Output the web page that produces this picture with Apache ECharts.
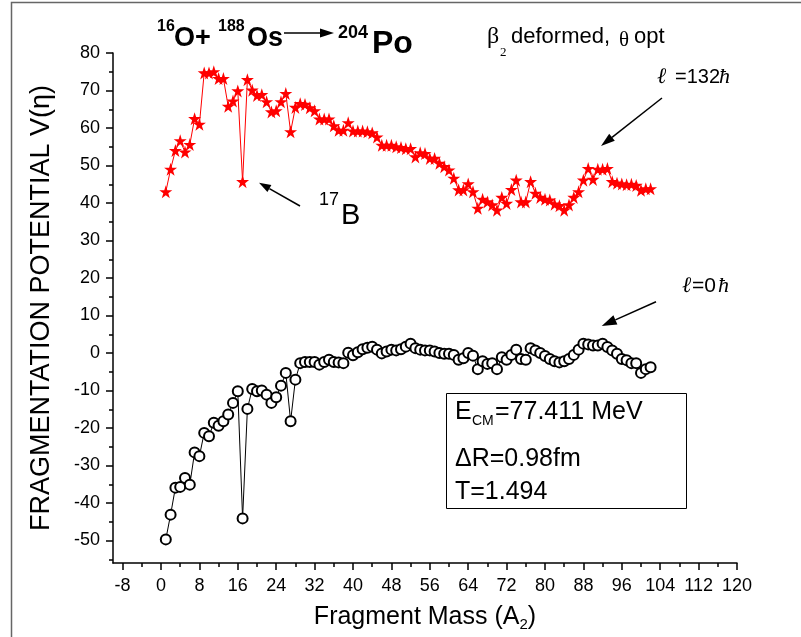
<!DOCTYPE html>
<html>
<head>
<meta charset="utf-8">
<script src="https://cdn.jsdelivr.net/npm/echarts@6/dist/echarts.min.js"></script>
<style>
html,body{margin:0;padding:0;background:#fff;}
#chart{width:801px;height:637px;}
</style>
</head>
<body>
<div id="chart"></div>
<script>
// Fragment mass A2
var masses = [1,2,3,4,5,6,7,8,9,10,11,12,13,14,15,16,17,18,19,20,21,22,23,24,25,26,27,28,29,30,31,32,33,34,35,36,37,38,39,40,41,42,43,44,45,46,47,48,49,50,51,52,53,54,55,56,57,58,59,60,61,62,63,64,65,66,67,68,69,70,71,72,73,74,75,76,77,78,79,80,81,82,83,84,85,86,87,88,89,90,91,92,93,94,95,96,97,98,99,100,101,102];
// l = 132 hbar
var v132 = [43,49,54,56.6,53.6,55.6,62.5,61,74.7,74.7,75,73.2,73.2,65.8,67.2,69.9,45.7,72.9,70.1,68.7,68.9,67,64.3,64.6,67,69.2,59,65.5,66.5,66.3,65.4,64.6,62.4,62.4,62.4,60.6,59.4,59.4,61.4,59.2,59.2,59.2,59,58.7,57.6,55.4,55.4,55.4,55,54.8,54.5,54.5,52.3,53.4,53.2,51.9,51.9,50.6,49.7,48.8,46.6,43.5,43.5,45.1,43,38.6,41,40.3,39.5,38.1,41.5,39.9,43.6,46.1,40.3,40.3,45.7,42.6,41.5,41,40.8,39.7,39.3,38.1,39.5,41.5,43,46.1,49.2,46.3,49,49,49.2,45.7,45.3,45.1,44.9,45,44.7,43.4,43.8,43.8];
// l = 0 hbar
var v0 = [-49.7,-43.1,-35.9,-35.7,-33.3,-35.1,-26.5,-27.5,-21.3,-22.2,-18.6,-19.4,-18.2,-16.4,-13.3,-10.2,-44.1,-14.9,-9.6,-10.2,-10.0,-11.1,-13.3,-11.8,-8.7,-5.3,-18.2,-7.1,-2.7,-2.4,-2.4,-2.4,-3.1,-2.4,-1.8,-2.4,-2.5,-2.7,0.1,-0.6,0.2,1.0,1.4,1.7,0.9,-0.1,0.4,0.9,0.7,1.0,1.7,2.5,1.3,0.9,0.7,0.7,0.4,0,-0.2,-0.2,-0.5,-1.8,-1.4,0.0,-0.7,-4.3,-2.2,-2.9,-2.7,-4.3,-1.1,-1.8,-0.5,0.9,-1.6,-1.8,1.3,0.7,0,-0.8,-1.6,-2.2,-2.5,-2.2,-1.6,-0.5,0.9,2.5,2.3,2.0,2.0,2.5,1.6,0.7,-0.2,-1.6,-1.9,-2.7,-2.7,-5.3,-4.3,-3.8];
// tick values
var xMajorTicks = [-8,0,8,16,24,32,40,48,56,64,72,80,88,96,104,112,120];
var xMinorTicks = [-4,4,12,20,28,36,44,52,60,68,76,84,92,100,108,116];
var yMajorTicks = [-50,-40,-30,-20,-10,0,10,20,30,40,50,60,70,80];
var yMinorTicks = [-55,-45,-35,-25,-15,-5,5,15,25,35,45,55,65,75];

var FONT = '"Liberation Sans", Arial, sans-serif';
var SERIF = '"Liberation Serif", "DejaVu Serif", serif';
var starPath = 'path://M50,0 L61.2,34.5 L97.6,34.5 L68.2,55.9 L79.4,90.5 L50,69.1 L20.6,90.5 L31.8,55.9 L2.4,34.5 L38.8,34.5 Z';

function pairs(xs, ys){ return xs.map(function(x,i){ return [x, ys[i]]; }); }

var chart = echarts.init(document.getElementById('chart'), null, {renderer:'canvas'});
var axisLineStyle = {color:'#000', width:1.5};
var option = {
  animation:false,
  backgroundColor:'#fff',
  grid:{left:113, right:64, top:53, bottom:73.5, containLabel:false},
  xAxis:[{
    type:'value', min:-10, max:120, position:'bottom',
    axisLine:{show:true, onZero:false, lineStyle:axisLineStyle},
    axisTick:{show:true, inside:false, length:7, customValues:xMajorTicks, lineStyle:{color:'#000', width:1.5}},
    axisLabel:{show:true, customValues:xMajorTicks, margin:14, color:'#000', fontSize:18, fontFamily:FONT},
    splitLine:{show:false},
    name:'{a|Fragment Mass (A}{s|2}{a|)}', nameLocation:'middle', nameGap:40,
    nameTextStyle:{rich:{a:{fontSize:25, fontFamily:FONT, color:'#000'}, s:{fontSize:15, fontFamily:FONT, color:'#000', verticalAlign:'bottom', padding:[14,0,0,0]}}}
  },{
    type:'value', min:-10, max:120, position:'bottom',
    axisLine:{show:false, onZero:false},
    axisTick:{show:true, inside:false, length:4, customValues:xMinorTicks, lineStyle:{color:'#000', width:1.5}},
    axisLabel:{show:false}, splitLine:{show:false}
  }],
  yAxis:[{
    type:'value', min:-56, max:80, position:'left',
    axisLine:{show:true, onZero:false, lineStyle:axisLineStyle},
    axisTick:{show:true, inside:false, length:7, customValues:yMajorTicks, lineStyle:{color:'#000', width:1.5}},
    axisLabel:{show:true, customValues:yMajorTicks, margin:13, color:'#000', fontSize:18, fontFamily:FONT},
    splitLine:{show:false},
    name:'FRAGMENTATION POTENTIAL V(η)', nameLocation:'middle', nameGap:58, nameRotate:90,
    nameTextStyle:{fontSize:27, fontFamily:FONT, color:'#000'}
  },{
    type:'value', min:-56, max:80, position:'left',
    axisLine:{show:false, onZero:false},
    axisTick:{show:true, inside:false, length:4, customValues:yMinorTicks, lineStyle:{color:'#000', width:1.5}},
    axisLabel:{show:false}, splitLine:{show:false}
  }],
  series:[{
    name:'l=132', type:'line', xAxisIndex:0, yAxisIndex:0,
    data:pairs(masses, v132),
    symbol:starPath, symbolSize:13,
    lineStyle:{color:'#ff0000', width:1},
    itemStyle:{color:'#ff0000', borderWidth:0}
  },{
    name:'l=0', type:'line', xAxisIndex:0, yAxisIndex:0,
    data:pairs(masses, v0),
    symbol:'emptyCircle', symbolSize:10,
    lineStyle:{color:'#000', width:1},
    itemStyle:{color:'#000', borderColor:'#000', borderWidth:1}
  }],
  graphic:[
    {type:'rect', shape:{x:11.5, y:2.5, width:800, height:700}, style:{fill:null, stroke:'#666', lineWidth:1.5}, silent:true},
    // title
    {type:'text', x:157, y:27, style:{text:'16', font:'bold 16px '+FONT, fill:'#000', textVerticalAlign:'middle'}},
    {type:'text', x:174, y:39, style:{text:'O+', font:'bold 27px '+FONT, fill:'#000', textVerticalAlign:'middle'}},
    {type:'text', x:218, y:27, style:{text:'188', font:'bold 16px '+FONT, fill:'#000', textVerticalAlign:'middle'}},
    {type:'text', x:247, y:39, style:{text:'Os', font:'bold 27px '+FONT, fill:'#000', textVerticalAlign:'middle'}},
    {type:'line', shape:{x1:284, y1:33, x2:322, y2:33}, style:{stroke:'#000', lineWidth:1.5}},
    {type:'polygon', shape:{points:[[334,33],[320,28.5],[320,37.5]]}, style:{fill:'#000'}},
    {type:'text', x:338, y:33, style:{text:'204', font:'bold 18px '+FONT, fill:'#000', textVerticalAlign:'middle'}},
    {type:'text', x:372, y:44, style:{text:'Po', font:'bold 32px '+FONT, fill:'#000', textVerticalAlign:'middle'}},
    // beta2 deformed
    {type:'text', x:487, y:37, style:{text:'β', font:'24px '+SERIF, fill:'#000', textVerticalAlign:'middle'}},
    {type:'text', x:500, y:53, style:{text:'2', font:'13px '+SERIF, fill:'#000', textVerticalAlign:'middle'}},
    {type:'text', x:511, y:37, style:{text:'deformed,', font:'22px '+FONT, fill:'#000', textVerticalAlign:'middle'}},
    {type:'text', x:619, y:40, style:{text:'θ', font:'21px '+SERIF, fill:'#000', textVerticalAlign:'middle'}},
    {type:'text', x:634, y:37, style:{text:'opt', font:'22px '+FONT, fill:'#000', textVerticalAlign:'middle'}},
    // l = 132
    {type:'text', x:657, y:77, style:{text:'ℓ', font:'italic 22px '+SERIF, fill:'#000', textVerticalAlign:'middle'}},
    {type:'text', x:675, y:77, style:{text:'=132', font:'20px '+FONT, fill:'#000', textVerticalAlign:'middle'}},
    {type:'text', x:719, y:77, style:{text:'ħ', font:'italic 22px '+SERIF, fill:'#000', textVerticalAlign:'middle'}},
    {type:'line', shape:{x1:662, y1:98, x2:612, y2:137.3}, style:{stroke:'#000', lineWidth:1.5}},
    {type:'polygon', shape:{points:[[601,146],[614.8,140.8],[609.2,133.8]]}, style:{fill:'#000'}},
    // 17B
    {type:'text', x:319, y:200, style:{text:'17', font:'18px '+FONT, fill:'#000', textVerticalAlign:'middle'}},
    {type:'text', x:341, y:216, style:{text:'B', font:'29px '+FONT, fill:'#000', textVerticalAlign:'middle'}},
    {type:'line', shape:{x1:300, y1:206, x2:269.4, y2:188.6}, style:{stroke:'#000', lineWidth:1.5}},
    {type:'polygon', shape:{points:[[259,182.7],[271.4,185.1],[267.4,192.1]]}, style:{fill:'#000'}},
    // l = 0
    {type:'text', x:682, y:286, style:{text:'ℓ', font:'italic 22px '+SERIF, fill:'#000', textVerticalAlign:'middle'}},
    {type:'text', x:692, y:286, style:{text:'=0', font:'21px '+FONT, fill:'#000', textVerticalAlign:'middle'}},
    {type:'text', x:718, y:286, style:{text:'ħ', font:'italic 22px '+SERIF, fill:'#000', textVerticalAlign:'middle'}},
    {type:'line', shape:{x1:656, y1:301.7, x2:615.4, y2:319.9}, style:{stroke:'#000', lineWidth:1.5}},
    {type:'polygon', shape:{points:[[601.7,326],[617.4,324.5],[613.4,315.3]]}, style:{fill:'#000'}},
    // info box
    {type:'rect', shape:{x:446.5, y:393.5, width:240, height:115}, style:{fill:'#fff', stroke:'#000', lineWidth:1}},
    {type:'text', x:455, y:412, style:{text:'E', font:'25px '+FONT, fill:'#000', textVerticalAlign:'middle'}},
    {type:'text', x:472, y:421, style:{text:'CM', font:'14px '+FONT, fill:'#000', textVerticalAlign:'middle'}},
    {type:'text', x:495, y:412, style:{text:'=77.411 MeV', font:'25px '+FONT, fill:'#000', textVerticalAlign:'middle'}},
    {type:'text', x:455, y:459, style:{text:'ΔR=0.98fm', font:'25px '+FONT, fill:'#000', textVerticalAlign:'middle'}},
    {type:'text', x:455, y:492, style:{text:'T=1.494', font:'25px '+FONT, fill:'#000', textVerticalAlign:'middle'}}
  ]
};
chart.setOption(option);
</script>
</body>
</html>
